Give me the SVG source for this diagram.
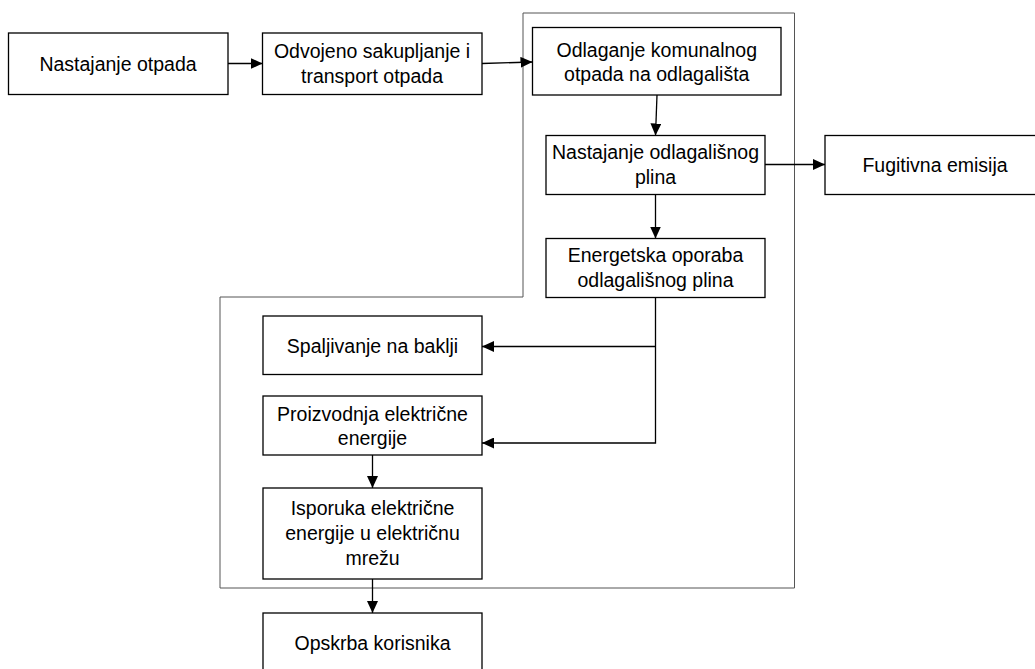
<svg xmlns="http://www.w3.org/2000/svg" width="1035" height="669" viewBox="0 0 1035 669">
<style>
.box{fill:#fff;stroke:#000;stroke-width:1.3}
.t{font-family:"Liberation Sans",Arial,sans-serif;font-size:19.5px;fill:#000;text-anchor:middle}
.c{fill:none;stroke:#000;stroke-width:1.3}
.frame{fill:none;stroke:#555;stroke-width:1}
</style>
<defs>
<marker id="ah" markerUnits="userSpaceOnUse" markerWidth="12" markerHeight="11" refX="12" refY="5.5" orient="auto">
<path d="M0,0 L12,5.5 L0,11 z" fill="#000"/>
</marker>
</defs>
<rect width="1035" height="669" fill="#fff"/>
<g id="frame"><path class="frame" d="M523,13 H794.5 V588 H220 V297 H523 Z"/></g>
<g id="n1"><rect class="box" x="8.5" y="33" width="219.5" height="61.5"/><text class="t" x="118" y="70.5">Nastajanje otpada</text></g>
<g id="n2"><rect class="box" x="262.5" y="33" width="219.5" height="61.5"/><text class="t" x="372" y="58">Odvojeno sakupljanje i</text><text class="t" x="372" y="82.5">transport otpada</text></g>
<g id="n3"><rect class="box" x="532.5" y="27.5" width="248.5" height="67.5"/><text class="t" x="656.75" y="56.5">Odlaganje komunalnog</text><text class="t" x="656.75" y="81">otpada na odlagališta</text></g>
<g id="n4"><rect class="box" x="546" y="135.5" width="219" height="59"/><text class="t" x="655.5" y="159">Nastajanje odlagališnog</text><text class="t" x="655.5" y="183.5">plina</text></g>
<g id="n5"><rect class="box" x="825" y="135.5" width="219" height="59"/><text class="t" x="935" y="171.5">Fugitivna emisija</text></g>
<g id="n6"><rect class="box" x="546" y="238.5" width="219" height="59"/><text class="t" x="655.5" y="262">Energetska oporaba</text><text class="t" x="655.5" y="286.5">odlagališnog plina</text></g>
<g id="n7"><rect class="box" x="263" y="316" width="219" height="58.5"/><text class="t" x="372.5" y="352.5">Spaljivanje na baklji</text></g>
<g id="n8"><rect class="box" x="263" y="396" width="219" height="59"/><text class="t" x="372.5" y="420.5">Proizvodnja električne</text><text class="t" x="372.5" y="445">energije</text></g>
<g id="n9"><rect class="box" x="263" y="488" width="219" height="91"/><text class="t" x="372.5" y="515">Isporuka električne</text><text class="t" x="372.5" y="540">energije u električnu</text><text class="t" x="372.5" y="565">mrežu</text></g>
<g id="n10"><rect class="box" x="263" y="613" width="219" height="61"/><text class="t" x="372.5" y="650">Opskrba korisnika</text></g>
<g id="connectors">
<line class="c" x1="228" y1="63.5" x2="262.5" y2="63.5" marker-end="url(#ah)"/>
<line class="c" x1="482" y1="63.5" x2="532.5" y2="62" marker-end="url(#ah)"/>
<line class="c" x1="657" y1="95" x2="655.5" y2="135.5" marker-end="url(#ah)"/>
<line class="c" x1="765" y1="164.5" x2="825" y2="164.5" marker-end="url(#ah)"/>
<line class="c" x1="655.5" y1="194.5" x2="655.5" y2="238.5" marker-end="url(#ah)"/>
<polyline class="c" points="655.5,297.5 655.5,443 482,443" marker-end="url(#ah)"/>
<line class="c" x1="655.5" y1="346.5" x2="482" y2="346.5" marker-end="url(#ah)"/>
<line class="c" x1="372.5" y1="455" x2="372.5" y2="488" marker-end="url(#ah)"/>
<line class="c" x1="372.5" y1="579" x2="372.5" y2="613" marker-end="url(#ah)"/>
</g>
</svg>
